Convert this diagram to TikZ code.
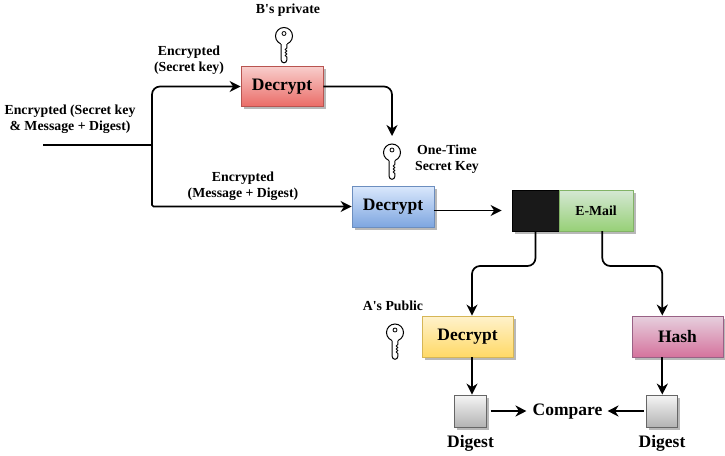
\documentclass[tikz,border=0pt]{standalone}
\usepackage{fontspec}
\setmainfont{Liberation Serif}
\usetikzlibrary{arrows.meta,shadows}
\definecolor{redtop}{HTML}{F8CECC}
\definecolor{redlow}{HTML}{EA6B66}
\definecolor{redline}{HTML}{B85450}
\definecolor{bluetop}{HTML}{DAE8FC}
\definecolor{bluelow}{HTML}{7EA6E0}
\definecolor{blueline}{HTML}{6C8EBF}
\definecolor{greentop}{HTML}{D5E8D4}
\definecolor{greenlow}{HTML}{97D077}
\definecolor{greenline}{HTML}{82B366}
\definecolor{yellowtop}{HTML}{FFF2CC}
\definecolor{yellowlow}{HTML}{FFD966}
\definecolor{yellowline}{HTML}{D6B656}
\definecolor{pinktop}{HTML}{E6D0DE}
\definecolor{pinklow}{HTML}{D5739D}
\definecolor{pinkline}{HTML}{996185}
\definecolor{greytop}{HTML}{F5F5F5}
\definecolor{greylow}{HTML}{B3B3B3}
\definecolor{greyline}{HTML}{666666}
\tikzset{
  wire/.style={line width=1.7pt,rounded corners=8pt},
  arrowed/.style={wire,-{Stealth[length=11pt,width=11pt,inset=3.5pt]}},
  label/.style={font=\bfseries\fontsize{13.8}{16}\selectfont,align=center,inner sep=0pt},
  biglabel/.style={font=\bfseries\fontsize{17.5}{18}\selectfont,inner sep=0pt},
  box/.style={rectangle,draw=#1line,top color=#1top,bottom color=#1low,line width=0.8pt,inner sep=0pt,
    drop shadow={shadow xshift=2.5pt,shadow yshift=-2.5pt,fill=black!28,opacity=1}},
  keyicon/.pic={
    \draw[line width=1pt] (0,0) circle (8.5);
    \draw[line width=0.8pt] (0,-2.5) circle (2);
    \fill[white] (-2.8,5) rectangle (2.8,10);
    \draw[line width=1pt,line join=round] (-2.8,8) -- (-2.8,24) arc[start angle=180,end angle=0,radius=2.8]
      -- (2.8,21) -- (1.2,19.5) -- (2.8,18) -- (1.2,16.5) -- (2.8,15) -- (1.2,13.5) -- (2.8,12) -- (2.8,8);
  }
}
\begin{document}
\begin{tikzpicture}[x=1pt,y=-1pt]
\useasboundingbox (0,0) rectangle (725,455);
% boxes
\node[box=red,minimum width=82pt,minimum height=40.5pt,biglabel] (decryptB) at (282,86.5) {Decrypt};
\node[box=blue,minimum width=82pt,minimum height=41pt,biglabel] (decryptS) at (393,206.5) {Decrypt};
\node[rectangle,draw=black,fill=black!90,line width=0.8pt,minimum width=47pt,minimum height=41pt,
  drop shadow={shadow xshift=2.5pt,shadow yshift=-2.5pt,fill=black!28,opacity=1}] (secret) at (535.5,210.5) {};
\node[box=green,minimum width=74pt,minimum height=41pt,label] (mail) at (596,210.5) {E-Mail};
\node[box=yellow,minimum width=91pt,minimum height=41pt,biglabel] (decryptA) at (467.5,336.5) {Decrypt};
\node[box=pink,minimum width=91pt,minimum height=41pt,biglabel] (hash) at (677.5,336.5) {Hash};
\node[box=grey,minimum width=31.5pt,minimum height=32pt] (digestA) at (470.5,411) {};
\node[box=grey,minimum width=31.5pt,minimum height=32pt] (digestH) at (662,411) {};
% texts
\node[label] (bprivate) at (288,10) {B\textquotesingle s private};
\node[label] (encsecret) at (189,60) {Encrypted\\(Secret key)};
\node[label] (encall) at (70,119) {Encrypted (Secret key\\\& Message + Digest)};
\node[label] (encmsg) at (243,186) {Encrypted\\(Message + Digest)};
\node[label] (onetime) at (447,159) {One-Time\\Secret Key};
\node[label] (apublic) at (393,306) {A\textquotesingle s Public};
\node[biglabel] (compare) at (567.5,412) {Compare};
\node[biglabel] (digesttextA) at (470.5,443) {Digest};
\node[biglabel] (digesttextH) at (662,443) {Digest};
% keys
\pic at (284,36) {keyicon};
\pic at (392,152.5) {keyicon};
\pic at (395,332.5) {keyicon};
% connectors
\coordinate (start) at (43,145);
\coordinate (fork) at (152,145);
\coordinate (keytop) at (392,136);
\coordinate (laneA) at (472,266);
\coordinate (laneH) at (662.3,266);
\coordinate (laneM) at (602.3,231);
\draw[wire] (start) -- (fork);
\draw[arrowed] (fork) |- (decryptB.west);
\draw[arrowed,rounded corners=1.5pt] (fork) |- (decryptS.west);
\draw[arrowed] (decryptB.east) -| (keytop);
\draw[arrowed,shorten >=10pt] (decryptS.east |- secret.west) -- (secret.west);
\draw[arrowed] (secret.south) |- (laneA) -- (laneA |- decryptA.north);
\draw[arrowed] (laneM) |- (laneH) -- (laneH |- hash.north);
\draw[arrowed] (laneA |- decryptA.south) -- (laneA |- digestA.north);
\draw[arrowed] (laneH |- hash.south) -- (laneH |- digestH.north);
\draw[arrowed,shorten <=4pt,shorten >=6pt] (digestA.east) -- (digestA.east -| compare.west);
\draw[arrowed,shorten <=2pt,shorten >=5pt] (digestH.west) -- (digestH.west -| compare.east);
\end{tikzpicture}
\end{document}
